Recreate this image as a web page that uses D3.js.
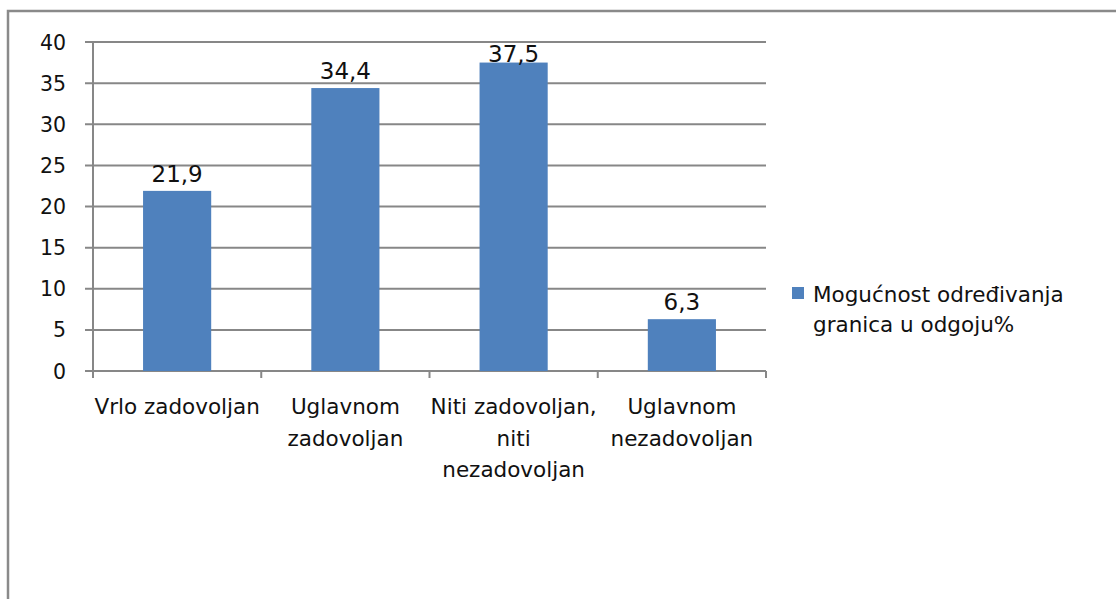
<!DOCTYPE html>
<html lang="hr">
  <head>
    <meta charset="utf-8" />
    <title>Mogućnost određivanja granica u odgoju</title>
    <script src="https://d3js.org/d3.v7.min.js"></script>
    <style>
      body { margin: 0; background: #fff; }
      text { font-family: "DejaVu Sans", "Open Sans", sans-serif; fill: #111; }
    </style>
  </head>
  <body>
    <div id="chart"></div>
    <script>
      // data
      var categories = [
        "Vrlo zadovoljan",
        "Uglavnom zadovoljan",
        "Niti zadovoljan, niti nezadovoljan",
        "Uglavnom nezadovoljan",
      ];
      // how the category labels wrap
      var categoryLines = [
        ["Vrlo zadovoljan"],
        ["Uglavnom", "zadovoljan"],
        ["Niti zadovoljan,", "niti", "nezadovoljan"],
        ["Uglavnom", "nezadovoljan"],
      ];
      var values = [21.9, 34.4, 37.5, 6.3];
      var yTicks = [0, 5, 10, 15, 20, 25, 30, 35, 40];
      var seriesName = ["Mogućnost određivanja", "granica u odgoju%"];

      var width = 1116;
      var height = 599;
      var barColor = "#4f81bd";
      var gridColor = "#878787";

      var svg = d3
        .select("#chart")
        .append("svg")
        .attr("width", width)
        .attr("height", height);

      // outer chart frame (runs off the right and bottom)
      svg
        .append("rect")
        .attr("x", 8)
        .attr("y", 11)
        .attr("width", width + 20)
        .attr("height", height + 20)
        .attr("fill", "none")
        .attr("stroke", "#8a8a8a")
        .attr("stroke-width", 2.5);

      var x = d3.scaleBand().domain(categories).range([93, 766]).paddingInner(0).paddingOuter(0);
      var y = d3.scaleLinear().domain([0, 40]).range([371, 42]);
      var barWidth = x.bandwidth() * 0.405;

      // gridlines
      svg
        .append("g")
        .selectAll("line")
        .data(yTicks)
        .enter()
        .append("line")
        .attr("x1", 85)
        .attr("x2", 766)
        .attr("y1", function (d) { return y(d); })
        .attr("y2", function (d) { return y(d); })
        .attr("stroke", gridColor)
        .attr("stroke-width", 2);

      // y axis line
      svg
        .append("line")
        .attr("x1", 93)
        .attr("x2", 93)
        .attr("y1", y(40))
        .attr("y2", y(0))
        .attr("stroke", gridColor)
        .attr("stroke-width", 2);

      // y tick labels
      svg
        .append("g")
        .selectAll("text")
        .data(yTicks)
        .enter()
        .append("text")
        .attr("x", 66)
        .attr("y", function (d) { return y(d) + 7.5; })
        .attr("text-anchor", "end")
        .style("font-size", "20.5px")
        .text(function (d) { return d; });

      // x axis tick marks at band edges
      var edges = [x.range()[0]].concat(categories.map(function (c) { return x(c) + x.bandwidth(); }));
      svg
        .append("g")
        .selectAll("line")
        .data(edges)
        .enter()
        .append("line")
        .attr("x1", function (d) { return d; })
        .attr("x2", function (d) { return d; })
        .attr("y1", y(0))
        .attr("y2", y(0) + 7)
        .attr("stroke", gridColor)
        .attr("stroke-width", 2);

      // bars
      svg
        .append("g")
        .selectAll("rect")
        .data(values)
        .enter()
        .append("rect")
        .attr("x", function (d, i) { return x(categories[i]) + (x.bandwidth() - barWidth) / 2; })
        .attr("y", function (d) { return y(d); })
        .attr("width", barWidth)
        .attr("height", function (d) { return y(0) - y(d); })
        .attr("fill", barColor);

      // value labels, kept inside the chart like Excel does
      svg
        .append("g")
        .selectAll("text")
        .data(values)
        .enter()
        .append("text")
        .attr("x", function (d, i) { return x(categories[i]) + x.bandwidth() / 2; })
        .attr("y", function (d) { return Math.max(y(d) - 9, y(40) + 20); })
        .attr("text-anchor", "middle")
        .style("font-size", "23px")
        .text(function (d) { return String(d).replace(".", ","); });

      // category labels
      var catLabels = svg
        .append("g")
        .selectAll("text")
        .data(categories)
        .enter()
        .append("text")
        .attr("text-anchor", "middle")
        .style("font-size", "21.5px");

      catLabels
        .selectAll("tspan")
        .data(function (d, i) { return categoryLines[i]; })
        .enter()
        .append("tspan")
        .attr("x", function () {
          var c = d3.select(this.parentNode).datum();
          return x(c) + x.bandwidth() / 2;
        })
        .attr("y", function (d, i) { return 414 + i * 31.5; })
        .text(function (d) { return d; });

      // legend
      var legend = svg.append("g");
      legend
        .append("rect")
        .attr("x", 792)
        .attr("y", 287)
        .attr("width", 12)
        .attr("height", 12)
        .attr("fill", barColor);

      legend
        .append("text")
        .style("font-size", "21.5px")
        .selectAll("tspan")
        .data(seriesName)
        .enter()
        .append("tspan")
        .attr("x", 813)
        .attr("y", function (d, i) { return 302 + i * 30; })
        .text(function (d) { return d; });
    </script>
  </body>
</html>
